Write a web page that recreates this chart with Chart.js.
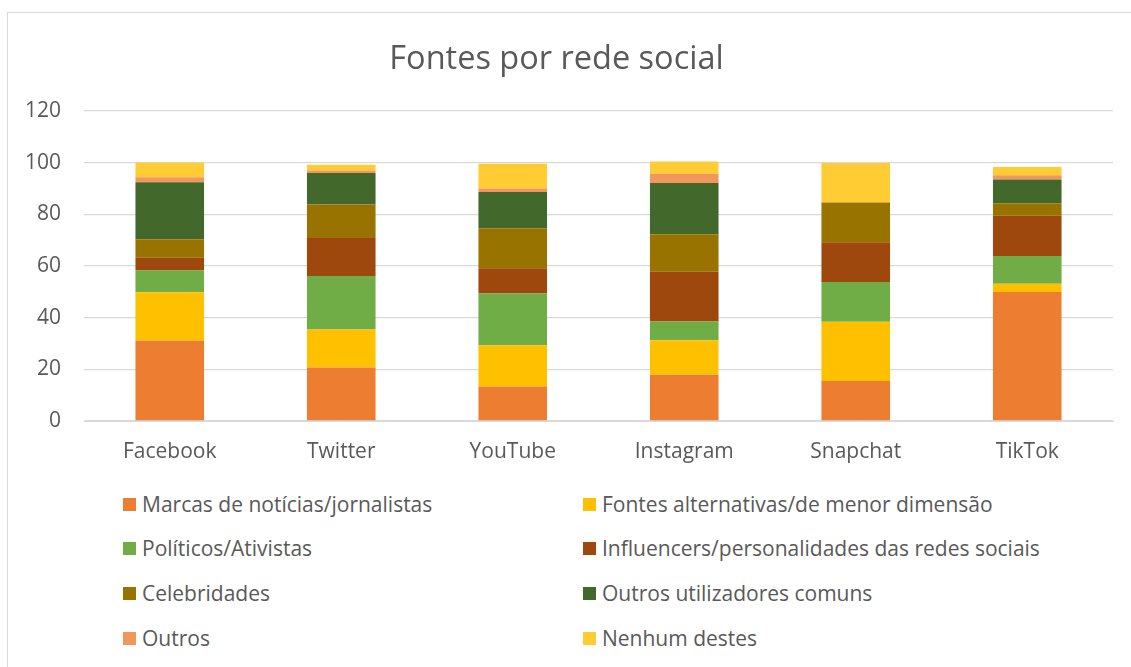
<!DOCTYPE html>
<html>
<head>
<meta charset="utf-8">
<script src="https://cdn.jsdelivr.net/npm/chart.js@4"></script>
<style>
  html, body { margin: 0; padding: 0; background: #fff; overflow: hidden; }
  body { width: 1131px; height: 667px; position: relative; font-family: "Open Sans", sans-serif; }
  #frame { position: absolute; left: 7px; top: 12px; width: 1140px; height: 680px; border: 1px solid #d9d9d9; box-sizing: border-box; }
  #wrap { position: absolute; left: 0; top: 0; width: 1131px; height: 471px; }
  #legend { position: absolute; left: 0; top: 0; width: 1131px; }
  .item { position: absolute; display: flex; align-items: center; font-size: 21px; color: #595959; white-space: nowrap; }
  .box { width: 13px; height: 13px; margin-right: 6px; }
</style>
</head>
<body>
<div id="frame"></div>
<div id="wrap"><canvas id="barChart"></canvas></div>
<div id="legend"></div>
<script>
// networks
var networks = ["Facebook", "Twitter", "YouTube", "Instagram", "Snapchat", "TikTok"];

// series, in % of users
var marcas      = [31.1, 20.7, 13.4, 17.9, 15.5, 49.9];
var fontesAlt   = [18.7, 14.7, 15.9, 13.4, 22.9, 3.2];
var politicos   = [8.5, 20.7, 20.2, 7.2, 15.4, 10.8];
var influencers = [4.9, 14.7, 9.6, 19.3, 15.4, 15.6];
var celebs      = [7.2, 13.0, 15.5, 14.5, 15.4, 4.8];
var outrosComuns = [22.0, 12.2, 14.0, 19.8, 0, 9.2];
var outros      = [2.0, 1.0, 1.4, 3.6, 0, 1.6];
var nenhum      = [5.6, 2.2, 9.6, 4.8, 15.3, 3.2];

var yTicks = [0, 20, 40, 60, 80, 100, 120];

var series = [
  { label: "Marcas de notícias/jornalistas", data: marcas, color: "#ED7D31" },
  { label: "Fontes alternativas/de menor dimensão", data: fontesAlt, color: "#FFC000" },
  { label: "Políticos/Ativistas", data: politicos, color: "#70AD47" },
  { label: "Influencers/personalidades das redes sociais", data: influencers, color: "#9E480E" },
  { label: "Celebridades", data: celebs, color: "#997300" },
  { label: "Outros utilizadores comuns", data: outrosComuns, color: "#43682B" },
  { label: "Outros", data: outros, color: "#F1975A" },
  { label: "Nenhum destes", data: nenhum, color: "#FFCD33" }
];

var ctx = document.getElementById("barChart").getContext('2d');
var myBarChart = new Chart(ctx, {
  type: 'bar',
  data: {
    labels: networks,
    datasets: series.map(function (s) {
      return {
        label: s.label,
        data: s.data,
        backgroundColor: s.color,
        borderWidth: 0,
        categoryPercentage: 1,
        barPercentage: 0.4
      };
    })
  },
  options: {
    responsive: true,
    maintainAspectRatio: false,
    animation: false,
    layout: { padding: { left: 0, right: 18, top: 0, bottom: 0 } },
    plugins: {
      legend: { display: false },
      tooltip: { enabled: false },
      title: {
        display: true,
        text: "Fontes por rede social",
        color: "#595959",
        font: { family: "Open Sans", size: 32.5, weight: 'normal' },
        padding: { top: 40, bottom: 32 }
      }
    },
    scales: {
      x: {
        stacked: true,
        grid: { display: false, drawTicks: false },
        border: { color: "#d9d9d9" },
        ticks: { color: "#595959", font: { family: "Open Sans", size: 21 }, padding: 18 },
        afterFit: function (scale) { scale.height = 50; }
      },
      y: {
        stacked: true,
        min: 0,
        max: 120,
        afterBuildTicks: function (scale) {
          scale.ticks = yTicks.map(function (v) { return { value: v }; });
        },
        grid: { color: "#d9d9d9", lineWidth: 1.3, drawTicks: false },
        border: { display: false },
        ticks: { color: "#595959", font: { family: "Open Sans", size: 21 }, padding: 23 },
        afterFit: function (scale) { scale.width = 84; }
      }
    }
  }
});

// two-column legend, like the original
var legend = document.getElementById("legend");
var colX = [123, 583];
var rowY = [505, 549, 594, 639];
series.forEach(function (s, i) {
  var el = document.createElement("div");
  el.className = "item";
  el.style.left = colX[i % 2] + "px";
  el.style.top = (rowY[Math.floor(i / 2)] - 15) + "px";
  el.innerHTML = '<span class="box" style="background:' + s.color + '"></span>' + s.label;
  legend.appendChild(el);
});
</script>
</body>
</html>
